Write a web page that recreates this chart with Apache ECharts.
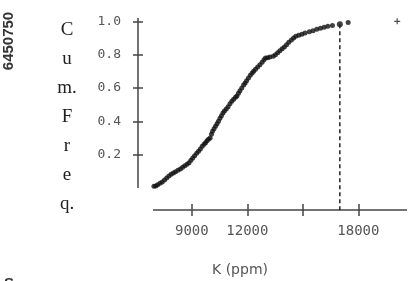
<!DOCTYPE html>
<html>
<head>
<meta charset="utf-8">
<script src="https://cdn.jsdelivr.net/npm/echarts@6/dist/echarts.min.js"></script>
<style>
  html, body { margin: 0; padding: 0; background: #fff; }
  #main { width: 413px; height: 281px; }
</style>
</head>
<body>
<div id="main"></div>
<script>
// K concentration (ppm) and cumulative frequency
var kPpm = [6840, 6950, 7050, 7150, 7280, 7400, 7520, 7640, 7760, 7880,
            8000, 8120, 8250, 8380, 8500, 8620, 8740, 8850, 8950, 9050,
            9150, 9260, 9360, 9460, 9560, 9660, 9740, 9820, 9900, 9990,
            10060, 10120, 10200, 10280, 10360, 10440, 10520, 10600, 10680, 10760,
            10860, 10960, 11060, 11160, 11260, 11360, 11440, 11520, 11600, 11700,
            11800, 11880, 11960, 12060, 12160, 12260, 12340, 12440, 12560, 12680,
            12800, 12900, 12980, 13100, 13220, 13400, 13520, 13640, 13760, 13880,
            14000, 14120, 14240, 14380, 14500, 14620, 14780, 14950, 15120, 15350,
            15550, 15750, 15950, 16150, 16350, 16600, 17450];
var cumFreq = [0.008, 0.010, 0.012, 0.020, 0.028, 0.036, 0.048, 0.060, 0.072, 0.082,
               0.090, 0.098, 0.106, 0.114, 0.124, 0.134, 0.142, 0.152, 0.166, 0.180,
               0.194, 0.208, 0.220, 0.234, 0.250, 0.262, 0.272, 0.284, 0.292, 0.300,
               0.322, 0.340, 0.356, 0.370, 0.386, 0.400, 0.418, 0.434, 0.450, 0.462,
               0.474, 0.488, 0.506, 0.520, 0.532, 0.544, 0.552, 0.568, 0.584, 0.600,
               0.618, 0.630, 0.644, 0.660, 0.676, 0.690, 0.700, 0.712, 0.726, 0.740,
               0.754, 0.770, 0.780, 0.782, 0.786, 0.790, 0.800, 0.812, 0.824, 0.836,
               0.846, 0.860, 0.874, 0.888, 0.900, 0.910, 0.916, 0.922, 0.930, 0.938,
               0.944, 0.952, 0.958, 0.964, 0.970, 0.975, 0.993];

// threshold point (dashed drop line) and the outlier drawn as a plus
var thresholdK = 17000, thresholdF = 0.982;
var outlierK = 20100, outlierF = 1.0;

var yTicks = [0.2, 0.4, 0.6, 0.8, 1.0];
var xTicks = [9000, 12000, 15000, 18000];
var xTickLabels = [9000, 12000, 18000];

var axisColor = '#444';
var labelColor = '#555';
var mono = '"DejaVu Sans Mono", "Liberation Mono", monospace';

// plot box and axis geometry (SAS style: axes detached from the plot box)
var gridLeft = 153, gridRight = 6, gridTop = 18, gridBottom = 93;
var chartH = 281;
var plotHeight = chartH - gridTop - gridBottom;
var xMin = 6900, xMax = 20630, yMin = 0, yMax = 1.02;
var xAxisOffset = 22, yAxisOffset = 15;
var xTickLen = 12, yTickLen = 10;

// the x axis line sits below the plot box; ticks cross it
var xLineAt = yMin - xAxisOffset / plotHeight * (yMax - yMin);

var points = kPpm.map(function (k, i) { return [k, cumFreq[i]]; });

var myChart = echarts.init(document.getElementById('main'));

option = {
    animation: false,
    grid: { left: gridLeft, right: gridRight, top: gridTop, bottom: gridBottom },
    xAxis: {
        type: 'value',
        min: xMin,
        max: xMax,
        offset: xAxisOffset - xTickLen / 2,
        splitLine: { show: false },
        axisLine: { show: false, onZero: false },
        axisTick: { show: true, customValues: xTicks, length: xTickLen,
                    lineStyle: { color: axisColor, width: 1.5 } },
        axisLabel: {
            customValues: xTickLabels,
            margin: 20,
            color: labelColor,
            fontFamily: mono,
            fontSize: 14,
            formatter: function (v) { return String(v); }
        }
    },
    yAxis: {
        type: 'value',
        min: yMin,
        max: yMax,
        offset: yAxisOffset - yTickLen / 2,
        splitLine: { show: false },
        axisLine: { show: false, onZero: false },
        axisTick: { show: true, customValues: yTicks, length: yTickLen,
                    lineStyle: { color: axisColor, width: 1.5 } },
        axisLabel: {
            customValues: yTicks,
            margin: 22,
            color: labelColor,
            fontFamily: mono,
            fontSize: 13,
            formatter: function (v) { return v.toFixed(1); }
        }
    },
    graphic: [
        {
            // y axis line, left of the plot box
            type: 'line',
            shape: { x1: gridLeft - yAxisOffset, y1: gridTop,
                     x2: gridLeft - yAxisOffset, y2: chartH - gridBottom },
            style: { stroke: axisColor, lineWidth: 1.5 }
        },
        {
            type: 'text', x: 67, y: 16,
            style: {
                text: 'C\nu\nm.\nF\nr\ne\nq.',
                font: '19px "Liberation Serif", serif',
                lineHeight: 29,
                fill: '#222',
                align: 'center'
            }
        },
        {
            type: 'text', x: 240, y: 270,
            style: {
                text: 'K (ppm)',
                font: '14px "DejaVu Sans", sans-serif',
                fill: labelColor,
                align: 'center',
                verticalAlign: 'middle'
            }
        },
        {
            type: 'text', x: 9, y: 41, rotation: Math.PI / 2,
            style: {
                text: '6450750',
                font: 'bold 15px "Liberation Sans", sans-serif',
                fill: '#333',
                align: 'center',
                verticalAlign: 'middle'
            }
        },
        {
            type: 'text', x: 4, y: 276,
            style: {
                text: 'S',
                font: 'bold 15px "Liberation Sans", sans-serif',
                fill: '#333'
            }
        }
    ],
    series: [
        {
            // x axis line
            type: 'line',
            data: [[xMin, xLineAt], [xMax, xLineAt]],
            clip: false,
            symbol: 'none',
            lineStyle: { color: axisColor, width: 1.5 }
        },
        {
            // dashed drop line from the threshold point down to the x axis
            type: 'line',
            data: [[thresholdK, thresholdF], [thresholdK, xLineAt]],
            clip: false,
            symbol: 'none',
            lineStyle: { color: '#222', width: 1.5, type: [4, 3] }
        },
        {
            type: 'scatter',
            data: points,
            symbol: 'circle',
            symbolSize: 5,
            itemStyle: { color: '#111' }
        },
        {
            type: 'scatter',
            data: [[thresholdK, thresholdF]],
            symbol: 'circle',
            symbolSize: 6,
            itemStyle: { color: '#111' }
        },
        {
            type: 'scatter',
            data: [[outlierK, outlierF]],
            symbol: 'path://M2,0H3V2H5V3H3V5H2V3H0V2H2Z',
            symbolSize: 6,
            itemStyle: { color: '#222' }
        }
    ]
};

myChart.setOption(option);
</script>
</body>
</html>
